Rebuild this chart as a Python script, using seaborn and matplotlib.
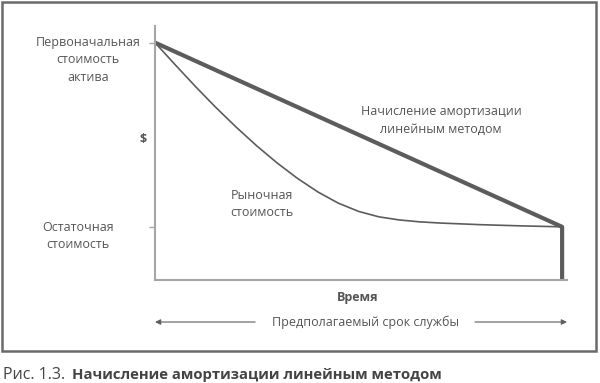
import pandas as pd
import matplotlib.pyplot as plt
import matplotlib.patches as patches
import seaborn as sns

# Данные (время 0..10, стоимость 0..100)
t_linear = [0, 10, 10]
v_linear = [100, 22.4, 0]

t_market = [0, 0.5, 1, 1.5, 2, 2.5, 3, 3.5, 4, 4.5, 5, 5.5, 6, 6.5, 7, 8, 9, 10]
v_market = [100, 90.6, 81.4, 72.6, 64.3, 56.5, 49.3, 42.8, 37.1, 32.4, 28.9,
            26.6, 25.3, 24.5, 24.0, 23.3, 22.8, 22.4]

y_ticks = [100, 22.4]

df_lin = pd.DataFrame({'Время': t_linear, 'Стоимость': v_linear})
df_mkt = pd.DataFrame({'Время': t_market, 'Стоимость': v_market})

sns.set_style('white')
plt.rcParams['font.family'] = ['Open Sans', 'DejaVu Sans']

line_col = '#5c5c5c'
axis_col = '#a6a6a6'
text_col = '#555555'

fig = plt.figure(figsize=(6, 3.83), dpi=100)
ax = fig.add_axes([155 / 600, 1 - 280 / 383, (567 - 155) / 600, (280 - 26) / 383])

sns.lineplot(data=df_lin, x='Время', y='Стоимость', estimator=None, sort=False,
             color=line_col, linewidth=3.0, ax=ax)
sns.lineplot(data=df_mkt, x='Время', y='Стоимость', estimator=None, sort=False,
             color=line_col, linewidth=1.2, ax=ax)

ax.set_xlim(0, 10.12)
ax.set_ylim(0, 107)
sns.despine(ax=ax)
for s in ['left', 'bottom']:
    ax.spines[s].set_color(axis_col)
    ax.spines[s].set_linewidth(1.5)
ax.set_xticks([])
ax.set_yticks(y_ticks)
ax.set_yticklabels([])
ax.tick_params(axis='y', length=4, width=1, color=axis_col, left=True)
ax.set_xlabel('')
ax.set_ylabel('')

fs = 9
kw = dict(ha='center', va='center', color=text_col, fontsize=fs,
          linespacing=1.45, clip_on=False)
ax.text(-1.65, 92.8, 'Первоначальная\nстоимость\nактива', **kw)
ax.text(-1.89, 18.6, 'Остаточная\nстоимость', **kw)
ax.text(2.63, 32, 'Рыночная\nстоимость', **kw)
ax.text(7.03, 67.1, 'Начисление амортизации\nлинейным методом', **kw)
ax.text(-0.29, 59, '$', ha='center', va='center', color=text_col,
        fontsize=fs, fontweight='bold', clip_on=False)
ax.text(4.99, -7.2, 'Время', ha='center', va='center', color=text_col,
        fontsize=fs, fontweight='bold', clip_on=False)
ax.text(5.16, -17.7, 'Предполагаемый срок службы', **kw)

arrow_kw = dict(arrowstyle='-|>', color='#5e5e5e', lw=0.8, mutation_scale=8,
                shrinkA=0, shrinkB=0)
ax.annotate('', xy=(0, -17.7), xytext=(2.46, -17.7), arrowprops=arrow_kw,
            annotation_clip=False)
ax.annotate('', xy=(10.12, -17.7), xytext=(7.86, -17.7), arrowprops=arrow_kw,
            annotation_clip=False)

# рамка вокруг рисунка
frame = patches.Rectangle((1.5 / 600, 1 - 351 / 383), 594 / 600, 349.5 / 383,
                          transform=fig.transFigure, fill=False,
                          edgecolor='#6a6a6a', linewidth=1.8)
fig.patches.append(frame)

# подпись
fig.text(3 / 600, 1 - 375 / 383, 'Рис. 1.3.', ha='left', va='center',
         color='#444444', fontsize=11.5)
fig.text(72 / 600, 1 - 375 / 383, 'Начисление амортизации линейным методом',
         ha='left', va='center', color='#444444', fontsize=10.75, fontweight='bold')

fig.savefig('out.png', dpi=100)
